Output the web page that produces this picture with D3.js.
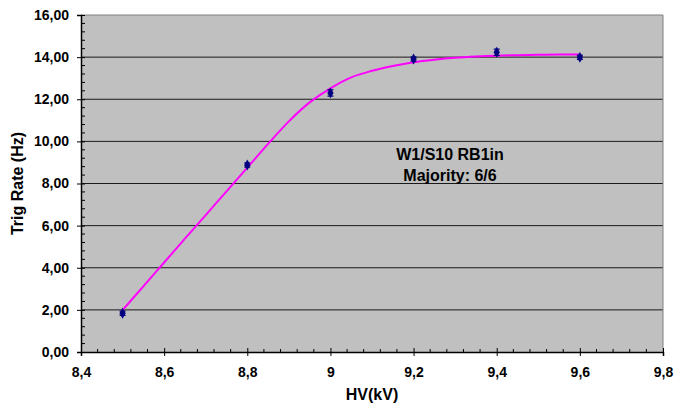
<!DOCTYPE html>
<html>
<head>
<meta charset="utf-8">
<script src="https://cdn.jsdelivr.net/npm/d3@7"></script>
<style>
  body { margin: 0; background: #fff; }
  text { font-family: "Liberation Sans", Arial, sans-serif; font-weight: bold; fill: #000; }
</style>
</head>
<body>
<svg width="674" height="407"></svg>
<script>
// measured points (HV in kV, trigger rate in Hz, error)
let hv = [8.5, 8.8, 9.0, 9.2, 9.4, 9.6];
let rate = [1.84, 8.88, 12.30, 13.91, 14.23, 13.99];
let err = [0.10, 0.10, 0.15, 0.10, 0.15, 0.10];

// magenta fit curve
let fitHv = [8.5, 8.55, 8.6, 8.65, 8.7, 8.75, 8.8, 8.85, 8.9, 8.95, 9.0, 9.05, 9.1, 9.15, 9.2, 9.25, 9.3, 9.35, 9.4, 9.45, 9.5, 9.55, 9.6];
let fitRate = [1.99, 3.12, 4.25, 5.38, 6.5, 7.63, 8.75, 9.88, 10.95, 11.85, 12.52, 13.04, 13.35, 13.58, 13.76, 13.88, 13.97, 14.03, 14.07, 14.09, 14.11, 14.12, 14.12];

let xTicks = [8.4, 8.6, 8.8, 9.0, 9.2, 9.4, 9.6, 9.8];
let yTicks = [0, 2, 4, 6, 8, 10, 12, 14, 16];
let label1 = "W1/S10 RB1in";
let label2 = "Majority: 6/6";

let svg = d3.select("svg");
let pLeft = 81, pTop = 15, pRight = 663, pBottom = 352;

let x = d3.scaleLinear().domain([8.4, 9.8]).range([pLeft, pRight]);
let y = d3.scaleLinear().domain([0, 16]).range([pBottom, pTop]);

let fmtY = d => d3.format(".2f")(d).replace(".", ",");
let fmtX = d => (Number.isInteger(d) ? d.toString() : d3.format(".1f")(d).replace(".", ","));

// plot background
svg.append("rect")
	.attr("x", pLeft).attr("y", pTop)
	.attr("width", pRight - pLeft).attr("height", pBottom - pTop)
	.attr("fill", "#c0c0c0");

// gridlines
svg.append("g").selectAll("line")
	.data(yTicks.filter(d => d > 0 && d < 16))
	.enter().append("line")
	.attr("x1", pLeft).attr("x2", pRight)
	.attr("y1", d => y(d)).attr("y2", d => y(d))
	.attr("stroke", "#1a1a1a").attr("stroke-width", 1);

// grey frame top / right
svg.append("path")
	.attr("d", `M${pLeft},${pTop}H${pRight}V${pBottom}`)
	.attr("fill", "none").attr("stroke", "#808080").attr("stroke-width", 1);

// y axis
let yAxis = svg.append("g").attr("transform", `translate(${pLeft},0)`);
yAxis.call(d3.axisLeft(y).tickValues(yTicks).tickSize(4).tickFormat(fmtY))
	.call(g => g.select(".domain").attr("stroke", "#000").attr("stroke-width", 1.5))
	.call(g => g.selectAll(".tick line").attr("x2", 4).attr("x1", -4))
	.call(g => g.selectAll("text").attr("x", -12).style("font-size", "14px"));
yAxis.append("g").selectAll("line")
	.data(d3.range(0, 16.01, 0.4).filter(d => Math.abs(d / 2 - Math.round(d / 2)) > 0.01))
	.enter().append("line")
	.attr("x1", 0).attr("x2", 4)
	.attr("y1", d => y(d)).attr("y2", d => y(d))
	.attr("stroke", "#000");

// x axis
let xAxis = svg.append("g").attr("transform", `translate(0,${pBottom})`);
xAxis.call(d3.axisBottom(x).tickValues(xTicks).tickSize(4).tickFormat(fmtX))
	.call(g => g.select(".domain").attr("stroke", "#000").attr("stroke-width", 1.5))
	.call(g => g.selectAll(".tick line").attr("y1", -4).attr("y2", 4))
	.call(g => g.selectAll("text").attr("y", 15).style("font-size", "14px"));
xAxis.append("g").selectAll("line")
	.data(d3.range(8.4, 9.801, 0.04).filter(d => Math.abs(d / 0.2 - Math.round(d / 0.2)) > 0.01))
	.enter().append("line")
	.attr("x1", d => x(d)).attr("x2", d => x(d))
	.attr("y1", 0).attr("y2", -3)
	.attr("stroke", "#000");

// fit curve
let fit = fitHv.map((h, i) => [h, fitRate[i]]);
svg.append("path")
	.datum(fit)
	.attr("fill", "none")
	.attr("stroke", "#ff00ff")
	.attr("stroke-width", 2)
	.attr("d", d3.line().x(d => x(d[0])).y(d => y(d[1])).curve(d3.curveCatmullRom));

// error bars
let pts = hv.map((h, i) => ({ h: h, r: rate[i], e: err[i] }));
let eb = svg.append("g").attr("stroke", "#000080").attr("stroke-width", 1.2);
eb.selectAll(".v").data(pts).enter().append("line")
	.attr("x1", d => x(d.h)).attr("x2", d => x(d.h))
	.attr("y1", d => y(d.r - d.e)).attr("y2", d => y(d.r + d.e));
eb.selectAll(".t").data(pts).enter().append("line")
	.attr("x1", d => x(d.h) - 3).attr("x2", d => x(d.h) + 3)
	.attr("y1", d => y(d.r + d.e)).attr("y2", d => y(d.r + d.e));
eb.selectAll(".b").data(pts).enter().append("line")
	.attr("x1", d => x(d.h) - 3).attr("x2", d => x(d.h) + 3)
	.attr("y1", d => y(d.r - d.e)).attr("y2", d => y(d.r - d.e));

// markers
svg.append("g").selectAll("path")
	.data(pts).enter().append("path")
	.attr("transform", d => `translate(${x(d.h)},${y(d.r)})`)
	.attr("d", d3.symbol().type(d3.symbolDiamond).size(34))
	.attr("fill", "#000080");

// annotation
svg.append("text").attr("x", 450).attr("y", 160)
	.attr("text-anchor", "middle").style("font-size", "16px").text(label1);
svg.append("text").attr("x", 450).attr("y", 181)
	.attr("text-anchor", "middle").style("font-size", "16px").text(label2);

// axis titles
svg.append("text")
	.attr("transform", `translate(23,${(pTop + pBottom) / 2}) rotate(-90)`)
	.attr("text-anchor", "middle").style("font-size", "16px").text("Trig Rate (Hz)");
svg.append("text").attr("x", (pLeft + pRight) / 2).attr("y", 400)
	.attr("text-anchor", "middle").style("font-size", "16px").text("HV(kV)");
</script>
</body>
</html>
